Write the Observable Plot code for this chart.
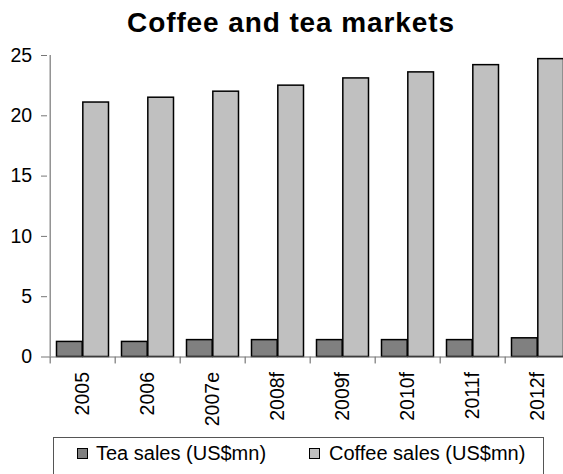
<!DOCTYPE html>
<html>
<head>
<meta charset="utf-8">
<script src="https://cdn.jsdelivr.net/npm/d3@7"></script>
<script src="https://cdn.jsdelivr.net/npm/@observablehq/plot@0.6"></script>
<style>
  html, body { margin: 0; padding: 0; overflow: hidden; background: #fff; width: 563px; height: 474px; }
  body { position: relative; font-family: "Liberation Sans", Arial, sans-serif; }
  #title { position: absolute; left: 0; top: 9px; width: 582px; text-align: center; font-weight: bold; font-size: 28px; line-height: 28px; letter-spacing: 0.9px; color: #000; }
  #chart { position: absolute; left: 0; top: 45px; }
  #legend { position: absolute; left: 53px; top: 437px; width: 491px; height: 60px; border: 1px solid #555; box-sizing: border-box; }
  .sw { position: absolute; top: 10px; width: 9px; height: 9px; border: 1px solid #000; }
  .lt { position: absolute; top: 5px; font-size: 20px; line-height: 20px; white-space: nowrap; color: #000; }
</style>
</head>
<body>
<div id="title">Coffee and tea markets</div>
<div id="chart"></div>
<div id="legend">
  <div class="sw" style="left:23px;background:#808080"></div><div class="lt" style="left:42px">Tea sales (US$mn)</div>
  <div class="sw" style="left:255px;background:#c0c0c0"></div><div class="lt" style="left:275px">Coffee sales (US$mn)</div>
</div>
<script>
const years = ["2005", "2006", "2007e", "2008f", "2009f", "2010f", "2011f", "2012f"];
const tea = [1.25, 1.25, 1.4, 1.4, 1.4, 1.4, 1.4, 1.55];
const coffee = [21.1, 21.5, 22.0, 22.5, 23.1, 23.6, 24.2, 24.7];
const yTicks = [0, 5, 10, 15, 20, 25];

const teaData = years.map((y, i) => ({year: y, value: tea[i]}));
const coffeeData = years.map((y, i) => ({year: y, value: coffee[i]}));

const xRange = [47, 572];
const band = (xRange[1] - xRange[0]) / years.length;
const half = band / 2;
const outer = 6.5;

const font = "'Liberation Sans', Arial, sans-serif";
const tickShape = {draw(context, l) { context.moveTo(0, 0); context.lineTo(0, -l); }};

const plot = Plot.plot({
  width: 563,
  height: 385,
  marginTop: 10,
  marginBottom: 73.5,
  marginLeft: 47,
  marginRight: 0,
  style: {fontFamily: font, fontSize: "19.5px", color: "#000", background: "transparent", overflow: "visible"},
  x: {domain: years, range: xRange, padding: 0, label: null, axis: null},
  y: {domain: [0, 25], label: null},
  marks: [
    Plot.barY(teaData, {x: "year", y: "value", fill: "#808080", stroke: "#000", strokeWidth: 1.5, insetLeft: outer, insetRight: half}),
    Plot.barY(coffeeData, {x: "year", y: "value", fill: "#c0c0c0", stroke: "#000", strokeWidth: 1.5, insetLeft: half, insetRight: outer}),
    Plot.ruleY([0], {stroke: "#777", strokeWidth: 1.2}),
    Plot.ruleX([years[0]], {x: d => d, y1: 0, y2: 25, dx: -half, stroke: "#777", strokeWidth: 1.2}),
    Plot.vector(years, {x: d => d, frameAnchor: "bottom", length: 6, rotate: 180, anchor: "start", shape: tickShape, dx: -half, stroke: "#777", strokeWidth: 1.2}),
    Plot.axisY({ticks: yTicks, tickSize: 6, tickPadding: 9.3, stroke: "#777", fill: "#000", fontSize: "19.5px", label: null}),
    Plot.axisX({tickSize: 0, tickPadding: 15, tickRotate: -90, fill: "#000", fontSize: "19.5px", label: null})
  ]
});
document.getElementById("chart").appendChild(plot);
</script>
</body>
</html>
